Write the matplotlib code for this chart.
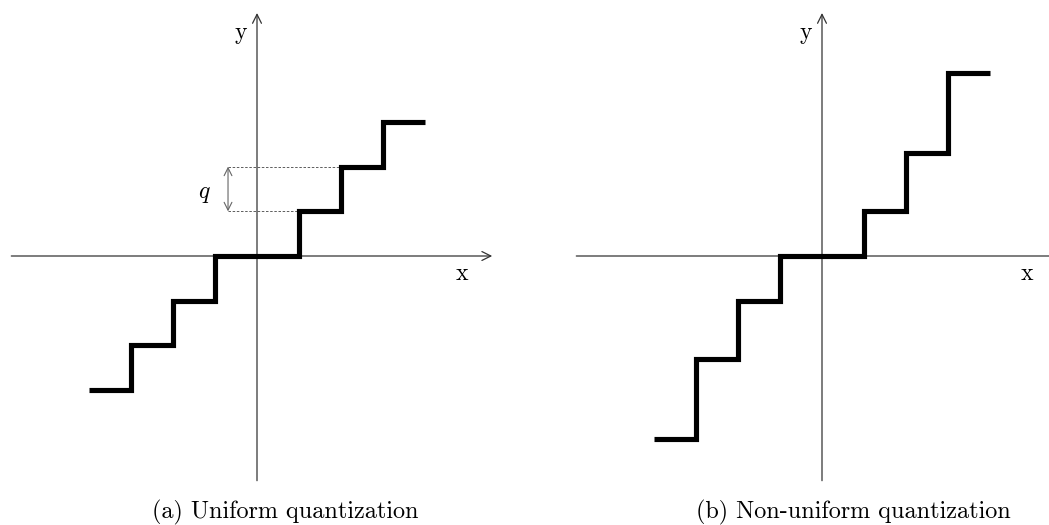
import matplotlib
matplotlib.use("Agg")
import matplotlib.pyplot as plt

plt.rcParams['font.family'] = ['cmr10', 'DejaVu Serif']
plt.rcParams['mathtext.fontset'] = 'cm'

# schodki: krawedzie przedzialow i poziomy kwantyzacji
krawedzie = [-4, -3, -2, -1, 1, 2, 3, 4]
poziomy_rownomierne = [-3, -2, -1, 0, 1, 2, 3]
poziomy_nierownomierne = [-4.1, -2.3, -1, 0, 1, 2.3, 4.1]

podpisy = ['(a) Uniform quantization', '(b) Non-uniform quantization']

W, H = 1049, 525
PX_X, PX_Y = 42.0, 44.67   # pikseli na jednostke
OS_Y = 256                 # wiersz osi x

fig = plt.figure(figsize=(W / 100, H / 100), dpi=100)

kolor_osi = '#333333'


def panel(x0, x1, x_osi, poziomy, os_x_koniec):
    ax = fig.add_axes([x0 / W, 0, (x1 - x0) / W, 1])
    ax.set_xlim((x0 - x_osi) / PX_X, (x1 - x_osi) / PX_X)
    ax.set_ylim(-(H - OS_Y) / PX_Y, OS_Y / PX_Y)
    ax.axis('off')
    strz = dict(arrowstyle='->', lw=0.9, color=kolor_osi, shrinkA=0, shrinkB=0,
                mutation_scale=16)
    ax.annotate('', xy=(os_x_koniec, 0), xytext=(-5.85, 0), arrowprops=strz,
                annotation_clip=False)
    ax.annotate('', xy=(0, 5.44), xytext=(0, -5.03), arrowprops=strz,
                annotation_clip=False)
    ax.stairs(poziomy, krawedzie, baseline=None, color='black', lw=3.7,
              zorder=3)
    ax.text(4.88, -0.537, 'x', fontsize=17, ha='center', va='baseline')
    ax.text(-0.38, 4.86, 'y', fontsize=17, ha='center', va='baseline')
    return ax


ax1 = panel(0, 524.5, 257, poziomy_rownomierne, 5.6)
ax2 = panel(524.5, 1049, 822, poziomy_nierownomierne, 5.8)

# oznaczenie kroku q
ax1.plot([-0.69, 2], [2, 2], ls=(0, (3, 2)), lw=0.6, color='#444444')
ax1.plot([-0.69, 1], [1, 1], ls=(0, (3, 2)), lw=0.6, color='#444444')
ax1.annotate('', xy=(-0.69, 2), xytext=(-0.69, 1),
             arrowprops=dict(arrowstyle='<->', lw=0.8, color='#666666',
                             shrinkA=0, shrinkB=0, mutation_scale=14))
ax1.text(-1.26, 1.30, r'$q$', fontsize=17, ha='center', va='baseline')

fig.text(285 / W, 1 - 518 / H, podpisy[0], fontsize=17.4, ha='center', va='baseline')
fig.text(853 / W, 1 - 518 / H, podpisy[1], fontsize=17.4, ha='center', va='baseline')

fig.savefig('out.png', dpi=100, facecolor='white')
